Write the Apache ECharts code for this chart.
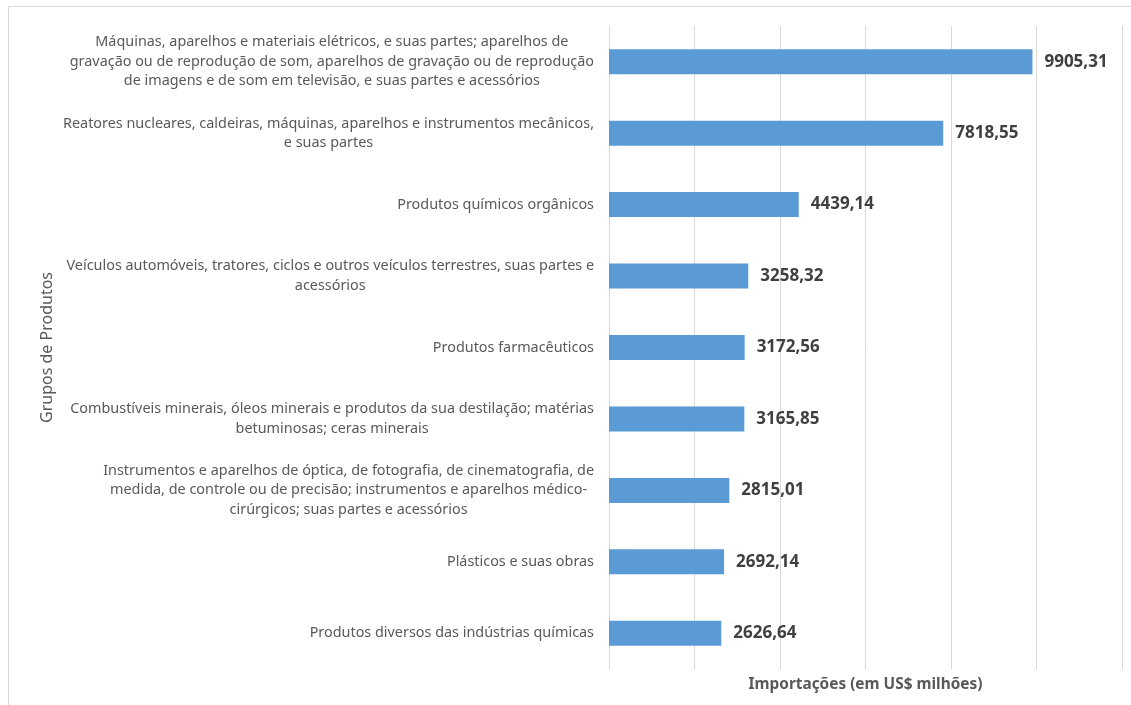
<!DOCTYPE html>
<html>
<head>
<meta charset="utf-8">
<script src="https://cdn.jsdelivr.net/npm/echarts@6/dist/echarts.min.js"></script>
<style>
  html, body { margin: 0; padding: 0; background: #ffffff; }
  #chart { width: 1131px; height: 705px; }
</style>
</head>
<body>
<div id="chart"></div>
<script>
const categories = [
  "Máquinas, aparelhos e materiais elétricos, e suas partes; aparelhos de\ngravação ou de reprodução de som, aparelhos de gravação ou de reprodução\nde imagens e de som em televisão, e suas partes e acessórios",
  "Reatores nucleares, caldeiras, máquinas, aparelhos e instrumentos mecânicos,\ne suas partes",
  "Produtos químicos orgânicos",
  "Veículos automóveis, tratores, ciclos e outros veículos terrestres, suas partes e\nacessórios",
  "Produtos farmacêuticos",
  "Combustíveis minerais, óleos minerais e produtos da sua destilação; matérias\nbetuminosas; ceras minerais",
  "Instrumentos e aparelhos de óptica, de fotografia, de cinematografia, de\nmedida, de controle ou de precisão; instrumentos e aparelhos médico-\ncirúrgicos; suas partes e acessórios",
  "Plásticos e suas obras",
  "Produtos diversos das indústrias químicas"
];
const importacoes = [9905.31, 7818.55, 4439.14, 3258.32, 3172.56, 3165.85, 2815.01, 2692.14, 2626.64];
const xAxisTitle = "Importações (em US$ milhões)";
const yAxisTitle = "Grupos de Produtos";

const chart = echarts.init(document.getElementById('chart'), null, { renderer: 'canvas' });
const fmt = v => v.toFixed(2).replace('.', ',');

chart.setOption({
  backgroundColor: '#ffffff',
  animation: false,
  graphic: [{
    type: 'rect',
    shape: { x: 8.5, y: 6.5, width: 1200, height: 800 },
    style: { fill: 'none', stroke: '#d9d9d9', lineWidth: 1 },
    silent: true
  }],
  grid: { left: 609, right: 9, top: 26, bottom: 36, containLabel: false },
  xAxis: {
    type: 'value',
    min: 0, max: 12000, interval: 2000,
    axisLabel: { show: false },
    axisLine: { show: false },
    axisTick: { show: false },
    splitLine: { show: true, lineStyle: { color: '#d9d9d9', width: 1 } },
    name: xAxisTitle,
    nameLocation: 'middle',
    nameGap: 8,
    nameTextStyle: { fontFamily: 'Noto Sans', fontSize: 15.4, fontWeight: 'bold', color: '#595959' }
  },
  yAxis: {
    type: 'category',
    data: categories,
    inverse: true,
    axisLine: { show: true, lineStyle: { color: '#d9d9d9', width: 1 } },
    axisTick: { show: false },
    axisLabel: {
      margin: 15,
      formatter: v => v.split('\n').map(l => '{c|' + l + '}').join('\n'),
      rich: {
        c: { fontFamily: 'Noto Sans', fontSize: 14.4, color: '#595959', align: 'center', lineHeight: 19.5 }
      }
    },
    name: yAxisTitle,
    nameLocation: 'middle',
    nameGap: 554,
    nameTextStyle: { fontFamily: 'Noto Sans', fontSize: 16, color: '#595959' }
  },
  series: [{
    type: 'bar',
    data: importacoes,
    barWidth: 25,
    itemStyle: { color: '#5b9bd5' },
    label: {
      show: true,
      position: 'right',
      distance: 12,
      formatter: p => fmt(p.value),
      fontFamily: 'Noto Sans',
      fontSize: 17,
      fontWeight: 'bold',
      color: '#404040'
    }
  }]
});
</script>
</body>
</html>
